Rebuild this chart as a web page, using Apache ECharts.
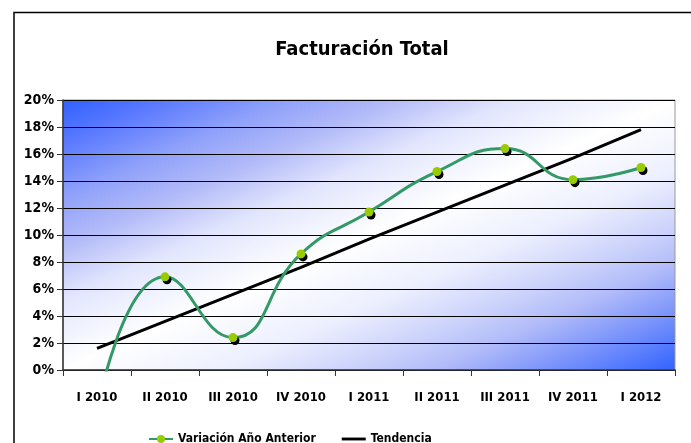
<!DOCTYPE html>
<html><head><meta charset="utf-8">
<script src="https://cdn.jsdelivr.net/npm/echarts@6/dist/echarts.min.js"></script>
<style>html,body{margin:0;padding:0;background:#fff;}#c{width:691px;height:443px;}</style>
</head><body><div id="c"></div>
<script>
var categories = ['I 2010','II 2010','III 2010','IV 2010','I 2011','II 2011','III 2011','IV 2011','I 2012'];
var variacion = [-3.0, 6.9, 2.4, 8.6, 11.7, 14.7, 16.4, 14.1, 15.0];
var tendencia = [1.6, 3.6, 5.6, 7.6, 9.7, 11.7, 13.7, 15.7, 17.8];
var yTicks = [0, 20, 2];

var FONT = '"DejaVu Sans Condensed","Liberation Sans Narrow","Arial Narrow",sans-serif';
var chart = echarts.init(document.getElementById('c'), null, {renderer:'canvas'});
chart.setOption({
  animation:false,
  title:{text:'Facturación Total', left:357, textAlign:'center', top:35,
    textStyle:{fontFamily:FONT, fontSize:20, fontWeight:'bold', color:'#000'}},
  graphic:[{type:'rect', shape:{x:14, y:12.5, width:700, height:460},
    style:{fill:'none', stroke:'#000', lineWidth:1.5}, z:-10}],
  grid:{left:63, right:16, top:100, bottom:73, show:true,
    borderColor:'#999', borderWidth:1,
    backgroundColor:new echarts.graphic.LinearGradient(0,0,0.326,1.674,[
      {offset:0, color:'#2f60ff'},
      {offset:0.08, color:'#5878ff'},
      {offset:0.18, color:'#8ea0fa'},
      {offset:0.27, color:'#b2baf8'},
      {offset:0.37, color:'#e2e6fd'},
      {offset:0.5, color:'#ffffff'},
      {offset:0.63, color:'#eceffe'},
      {offset:0.73, color:'#ccd3fb'},
      {offset:0.8, color:'#b2bcf9'},
      {offset:0.88, color:'#8198fb'},
      {offset:1, color:'#2f62ff'}])},
  legend:{top:428, left:143, itemGap:26, itemWidth:24, itemHeight:10,
    textStyle:{fontFamily:FONT, fontSize:12, fontWeight:'bold', color:'#000'},
    data:[{name:'Variación Año Anterior'},
          {name:'Tendencia', icon:'path://M0,0L25,0L25,3L0,3Z'}]},
  xAxis:{type:'category', data:categories, boundaryGap:true,
    axisLine:{lineStyle:{color:'#333', width:1.5}},
    axisTick:{show:true, length:6, lineStyle:{color:'#333'}},
    axisLabel:{interval:0, margin:21, fontFamily:FONT, fontSize:13, fontWeight:'bold', color:'#000'}},
  yAxis:{type:'value', min:yTicks[0], max:yTicks[1], interval:yTicks[2],
    axisLine:{show:true, lineStyle:{color:'#333', width:1.5}},
    axisTick:{show:true, length:6, lineStyle:{color:'#333'}},
    splitLine:{lineStyle:{color:'#000', width:1}},
    axisLabel:{formatter:'{value}%', margin:9, fontFamily:FONT, fontSize:14, fontWeight:'bold', color:'#000'}},
  series:[
    {name:'Variación Año Anterior', type:'line', data:variacion, smooth:0.5, clip:true,
      symbol:'circle', symbolSize:9, showAllSymbol:true,
      lineStyle:{color:'#339966', width:3},
      itemStyle:{color:'#99cc00', borderWidth:0, shadowColor:'#000', shadowOffsetX:2, shadowOffsetY:3, shadowBlur:0},
      z:3},
    {name:'Tendencia', type:'line', data:tendencia, symbol:'none', showSymbol:false,
      lineStyle:{color:'#000', width:3}, itemStyle:{color:'#000'}, z:2}
  ]
});
</script></body></html>
